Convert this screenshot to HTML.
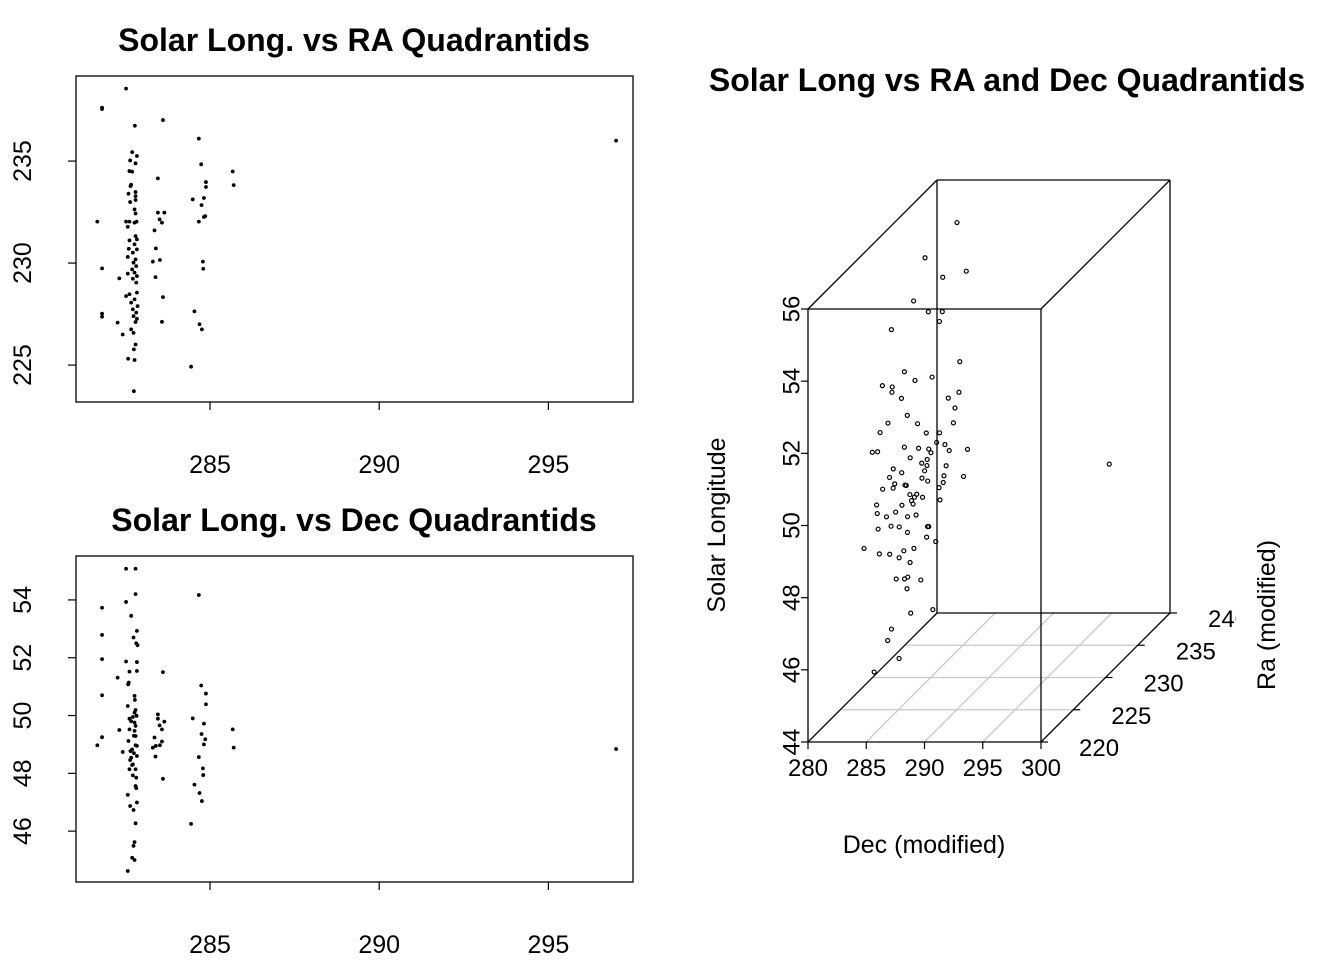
<!DOCTYPE html>
<html><head><meta charset="utf-8"><style>
html,body{margin:0;padding:0;background:#fff;}
svg text{font-family:"Liberation Sans",Arial,sans-serif;fill:#000;}
</style></head><body>
<svg id="s" width="1344" height="960" xmlns="http://www.w3.org/2000/svg">
<defs><clipPath id="clip3"><rect x="0" y="0" width="1236" height="960"/></clipPath></defs>
<g id="p1"></g>
<g id="p2"></g>
<g id="p3" clip-path="url(#clip3)"></g>
</svg>
<script>
// rows grouped: dec (x), ra, solar longitude
const decs = [281.81,281.81,281.67,281.81,281.81,281.81,282.27,282.32,282.42,282.52,
282.78,282.70,282.84,282.64,282.80,282.62,282.70,282.65,282.67,282.59,282.80,282.80,282.64,282.80,282.77,282.80,282.52,282.62,282.83,282.57,282.77,
282.80,282.84,282.62,282.77,282.60,282.84,282.72,282.57,282.80,282.74,282.82,282.70,282.77,282.57,282.84,282.72,282.82,282.52,282.62,282.84,282.77,282.67,282.86,282.72,282.82,282.74,282.84,282.80,282.67,282.74,282.80,282.75,282.58,282.77,282.75,
283.61,283.46,283.46,283.65,283.51,283.58,283.36,283.40,283.31,283.52,283.39,283.61,283.58,
284.67,284.74,284.88,284.88,284.49,284.82,284.75,284.86,284.82,284.67,284.79,284.80,284.54,284.69,284.76,284.44,
285.67,285.70,297.0];
const ras = [237.62,237.55,232.03,229.74,227.52,227.37,227.08,229.25,226.50,238.55,
236.73,235.44,235.25,235.03,234.89,234.51,234.48,233.77,233.84,233.40,233.48,233.28,232.99,233.09,232.63,232.43,232.03,232.03,232.03,231.78,231.98,
231.32,231.16,231.11,230.92,230.70,230.67,230.51,230.30,230.18,230.02,229.85,229.69,229.53,229.48,229.36,229.23,229.04,228.38,228.47,228.55,228.22,228.06,227.89,227.73,227.57,227.40,227.27,227.11,226.75,226.58,226.01,225.77,225.31,225.25,223.72,
237.01,234.15,232.47,232.47,232.14,231.98,231.60,230.72,230.07,230.15,229.31,228.33,227.12,
236.10,234.84,233.97,233.73,233.12,233.19,232.84,232.30,232.26,232.03,230.07,229.72,227.63,227.00,226.75,224.92,
234.49,233.82,236.0];
const sls = [53.73,52.79,48.97,51.95,50.70,49.25,51.31,49.50,48.74,55.08,
50.54,48.29,52.93,46.87,49.64,51.52,45.08,48.77,53.45,49.12,47.56,50.19,48.46,55.08,49.47,46.27,51.87,48.14,49.99,47.26,50.68,
54.20,48.60,49.89,45.62,51.14,48.95,47.93,50.33,49.29,46.73,52.50,48.83,49.76,44.62,51.85,48.31,47.49,53.93,49.52,46.99,50.10,48.54,52.43,49.95,47.85,45.49,51.54,48.97,49.80,52.70,48.14,49.30,51.08,45.00,48.70,
51.50,50.04,49.89,49.79,49.66,49.52,49.24,48.95,48.89,48.97,48.58,47.81,49.10,
54.17,51.04,50.76,50.39,49.90,49.72,49.36,49.18,49.00,48.56,48.17,47.94,47.61,47.32,47.04,46.25,
49.52,48.89,48.84];
const xTicks = [285,290,295];
const raTicks = [225,230,235];
const slTicks = [46,48,50,52,54];
const decTicks3 = [280,285,290,295,300];
const raTicks3 = [220,225,230,235,240];
const slTicks3 = [44,46,48,50,52,54,56];

const NS="http://www.w3.org/2000/svg";
function mk(tag, attrs, parent, txt){const e=document.createElementNS(NS,tag);for(const k in attrs)e.setAttribute(k,attrs[k]);if(txt!==undefined)e.textContent=txt;parent.appendChild(e);return e;}

function panel(g, top, yvals, yTicks, ylo, yhi, title, nm){
  const L=76,R=633,T=top,B=top+326;
  const xs=v=>L+(v-281.04)*(R-L)/(297.5-281.04);
  const ys=v=>B-(v-ylo)*(B-T)/(yhi-ylo);
  const t=mk('text',{x:354,y:T-25,'text-anchor':'middle','font-size':'32','font-weight':'bold'},g,title);
  
  
  const box=mk('rect',{x:L,y:T,width:R-L,height:B-T,fill:'none',stroke:'#000','stroke-width':1.3},g);
  
  
  xTicks.forEach(v=>{const x=xs(v);
    const tk=mk('line',{x1:x,x2:x,y1:B,y2:B+8,stroke:'#000','stroke-width':1.2},g);
    
    
    const lb=mk('text',{x:x,y:B+71,'text-anchor':'middle','font-size':'25'},g,String(v));
    
    
  });
  yTicks.forEach(v=>{const y=ys(v);
    const tk=mk('line',{x1:L-8,x2:L,y1:y,y2:y,stroke:'#000','stroke-width':1.2},g);
    
    
    const lb=mk('text',{x:0,y:0,'text-anchor':'middle','font-size':'25',transform:`translate(${L-53},${y}) rotate(-90)`,'dominant-baseline':'central'},g,String(v));
    
    
  });
  decs.forEach((d,i)=>{
    const c=mk('circle',{cx:xs(d),cy:ys(yvals[i]),r:1.9,fill:'#000'},g);
    
    
  });
}
panel(document.getElementById('p1'),76,ras,raTicks,223.19,239.17,'Solar Long. vs RA Quadrantids','ra');
panel(document.getElementById('p2'),556,sls,slTicks,44.24,55.52,'Solar Long. vs Dec Quadrantids','dec');

// 3D panel
const g3=document.getElementById('p3');
const P=(d,r,s)=>[808+(d-280)*(233/20)+(r-220)*(129/20), 742-(s-44)*(433/12)-(r-220)*(129/20)];
function ln(a,b,st,w,nm){const l=mk('line',{x1:a[0],y1:a[1],x2:b[0],y2:b[1],stroke:st,'stroke-width':w},g3);
  
  }
decTicks3.slice(1,-1).forEach(d=>ln(P(d,220,44),P(d,240,44),'#c8c8c8',1.3,'floor-grid-line'));
raTicks3.slice(1,-1).forEach(r=>ln(P(280,r,44),P(300,r,44),'#c8c8c8',1.3,'floor-grid-line'));
const C=[[280,220],[300,220],[300,240],[280,240]];
[44,56].forEach(s=>{for(let i=0;i<4;i++)ln(P(C[i][0],C[i][1],s),P(C[(i+1)%4][0],C[(i+1)%4][1],s),'#000',1.3,'box-edge');});
C.forEach(c=>ln(P(c[0],c[1],44),P(c[0],c[1],56),'#000',1.3,'box-edge'));
decTicks3.forEach(d=>{const p=P(d,220,44);ln(p,[p[0],p[1]+7],'#000',1.2,'dec-tick');
  const t=mk('text',{x:p[0],y:p[1]+34,'text-anchor':'middle','font-size':'24'},g3,String(d));
  
  });
raTicks3.forEach(r=>{const p=P(300,r,44);ln(p,[p[0]+7,p[1]],'#000',1.2,'ra-tick');
  const t=mk('text',{x:p[0]+38,y:p[1]+14,'text-anchor':'start','font-size':'24'},g3,String(r));
  
  });
slTicks3.forEach(s=>{const p=P(280,220,s);ln(p,[p[0]-7,p[1]],'#000',1.2,'sl-tick');
  const t=mk('text',{x:0,y:0,'text-anchor':'middle','font-size':'24','dominant-baseline':'central',transform:`translate(${p[0]-16},${p[1]}) rotate(-90)`},g3,String(s));
  
  });
decs.forEach((d,i)=>{const p=P(d,ras[i],sls[i]);
  const c=mk('circle',{cx:p[0],cy:p[1],r:2,fill:'none',stroke:'#000','stroke-width':1.2},g3);
  
  });
</script>
<div style="position:absolute;left:0;top:0;width:1344px;height:960px;pointer-events:none">
<svg width="1344" height="960" xmlns="http://www.w3.org/2000/svg">
<text x="1007" y="91" text-anchor="middle" font-size="32" font-weight="bold">Solar Long vs RA and Dec Quadrantids</text>
<text x="0" y="0" text-anchor="middle" font-size="25" transform="translate(725,525) rotate(-90)">Solar Longitude</text>
<text x="924" y="853" text-anchor="middle" font-size="25">Dec (modified)</text>
<text x="0" y="0" text-anchor="middle" font-size="25" transform="translate(1275,615) rotate(-90)">Ra (modified)</text>
</svg></div>
</body></html>
